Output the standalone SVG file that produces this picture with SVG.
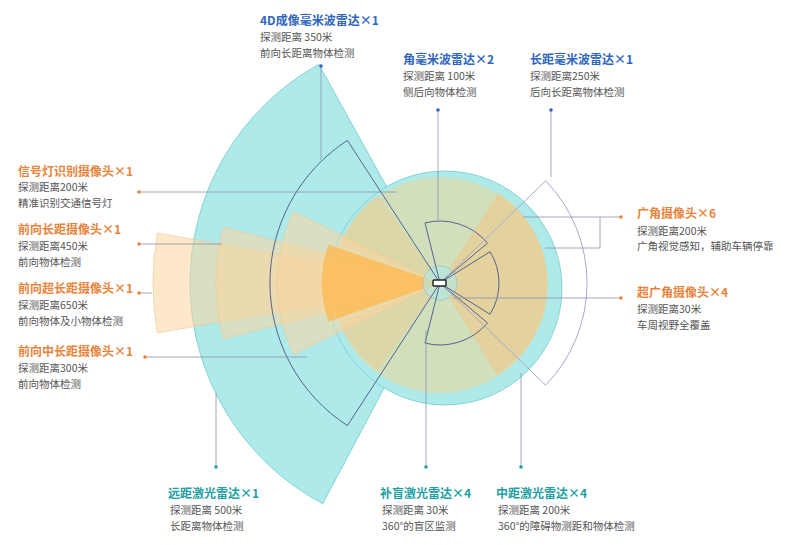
<svg xmlns="http://www.w3.org/2000/svg" width="800" height="545" viewBox="0 0 800 545">
<style>
text{font-family:"Noto Sans CJK SC","Noto Sans",sans-serif}
.tb{font-size:12px;font-weight:bold;fill:#2f66c0}
.to{font-size:12px;font-weight:bold;fill:#e8833a}
.tt{font-size:12px;font-weight:bold;fill:#1f9fa3}
.d{font-size:10.5px;fill:#555}
.or{fill:#fbd6a0;fill-opacity:.55;stroke:#f0c890;stroke-width:.6}
.ol{fill:none;stroke:#56638f;stroke-width:1}
.ln{fill:none;stroke:#8a93ad;stroke-width:.8}
</style>
<rect width="800" height="545" fill="#fff"/>
<g id="coverage">
<path d="M440 283 L318.8 64.3 A250 250 0 0 0 322.7 503.7 Z" fill="#aeeaea" stroke="#86d3d3"/>
<circle cx="445" cy="288" r="117" fill="#aeeaea" stroke="#86d3d3"/>
<circle cx="440" cy="285" r="108" fill="#ecd596" fill-opacity=".55"/>
<path d="M440 283 L498 193 A108 108 0 0 1 497 375 Z" fill="#f0c988" fill-opacity=".6"/>
<path d="M440 283 L340 244 A108 108 0 0 1 378 195 Z" fill="#f0c988" fill-opacity=".35"/>
<path d="M440 283 L378 371 A108 108 0 0 1 340 322 Z" fill="#f0c988" fill-opacity=".35"/>
<path class="or" d="M440 283 L157.4 233 A287 287 0 0 0 157.4 333 Z"/>
<path class="or" d="M440 283 L223.1 227 A224 224 0 0 0 223.1 339 Z"/>
<path class="or" d="M440 283 L293.5 211.6 A163 163 0 0 0 293.5 354.4 Z"/>
<path d="M440 283 L328.4 244.6 A118 118 0 0 0 328.4 321.4 Z" fill="#ffb84d" fill-opacity=".75"/>
<circle cx="440" cy="283" r="17" fill="#aeeaea" fill-opacity=".6" stroke="#9ab" stroke-width=".5"/>
<path class="ol" d="M440 283 L347.4 140.4 A170 170 0 0 0 347.4 425.6 Z"/>
<path class="ol" d="M440 283 L425 222.9 A62 62 0 0 1 487.5 243.1 Z"/>
<path class="ol" d="M440 283 L425 343.1 A62 62 0 0 0 487.5 322.9 Z"/>
<path class="ol" d="M440 283 L490 251.7 A59 59 0 0 1 490 314.3 Z"/>
<path d="M440 283 L545.7 180.8 A147 147 0 0 1 545.7 385.2 Z" fill="none" stroke="#a9a9d2" stroke-width="1"/>
<rect x="433" y="280" width="13" height="6" rx="1" fill="#fff" stroke="#222" stroke-width="1.5"/>
</g>
<g id="connectors">
<path class="ln" d="M321 66 V160 M438 110 V222 M551 110 V177 M139 192 H397 M139 244 H222 M139 293 H152 M145 357 H307 M523 217 H621 M600 217 V248 H545 M453 298 H621 M216 467 V393 M426 467 V330 M521 467 V373"/>
<g fill="#2f66c0"><circle cx="321" cy="66" r="1.8"/><circle cx="438" cy="110" r="1.8"/><circle cx="551" cy="110" r="1.8"/></g>
<g fill="#e8833a"><circle cx="139" cy="192" r="1.8"/><circle cx="139" cy="244" r="1.8"/><circle cx="139" cy="293" r="1.8"/><circle cx="145" cy="357" r="1.8"/><circle cx="621" cy="217" r="1.8"/><circle cx="621" cy="298" r="1.8"/></g>
<g fill="#1f9fa3"><circle cx="216" cy="467" r="1.8"/><circle cx="426" cy="467" r="1.8"/><circle cx="521" cy="467" r="1.8"/></g>
</g>
<g id="n-4d"><text class="tb" x="260" y="25">4D成像毫米波雷达×1</text><text class="d" x="260" y="41">探测距离 350米</text><text class="d" x="260" y="57">前向长距离物体检测</text></g>
<g id="n-corner"><text class="tb" x="403" y="64">角毫米波雷达×2</text><text class="d" x="403" y="80">探测距离 100米</text><text class="d" x="403" y="96">侧后向物体检测</text></g>
<g id="n-long"><text class="tb" x="530" y="64">长距毫米波雷达×1</text><text class="d" x="530" y="80">探测距离250米</text><text class="d" x="530" y="96">后向长距离物体检测</text></g>
<g id="n-signal"><text class="to" x="18" y="176">信号灯识别摄像头×1</text><text class="d" x="18" y="191">探测距离200米</text><text class="d" x="18" y="207">精准识别交通信号灯</text></g>
<g id="n-fl"><text class="to" x="18" y="234">前向长距摄像头×1</text><text class="d" x="18" y="250">探测距离450米</text><text class="d" x="18" y="266">前向物体检测</text></g>
<g id="n-ful"><text class="to" x="18" y="293">前向超长距摄像头×1</text><text class="d" x="18" y="309">探测距离650米</text><text class="d" x="18" y="325">前向物体及小物体检测</text></g>
<g id="n-fm"><text class="to" x="18" y="356">前向中长距摄像头×1</text><text class="d" x="18" y="372">探测距离300米</text><text class="d" x="18" y="388">前向物体检测</text></g>
<g id="n-wide"><text class="to" x="637" y="218">广角摄像头×6</text><text class="d" x="637" y="235">探测距离200米</text><text class="d" x="637" y="250">广角视觉感知，辅助车辆停靠</text></g>
<g id="n-uwide"><text class="to" x="637" y="297">超广角摄像头×4</text><text class="d" x="637" y="313">探测距离30米</text><text class="d" x="637" y="329">车周视野全覆盖</text></g>
<g id="n-far"><text class="tt" x="168" y="498">远距激光雷达×1</text><text class="d" x="170" y="514">探测距离 500米</text><text class="d" x="170" y="530">长距离物体检测</text></g>
<g id="n-blind"><text class="tt" x="380" y="498">补盲激光雷达×4</text><text class="d" x="382" y="514">探测距离 30米</text><text class="d" x="382" y="530">360°的盲区监测</text></g>
<g id="n-mid"><text class="tt" x="496" y="498">中距激光雷达×4</text><text class="d" x="498" y="514">探测距离 200米</text><text class="d" x="498" y="530">360°的障碍物测距和物体检测</text></g>
</svg>
